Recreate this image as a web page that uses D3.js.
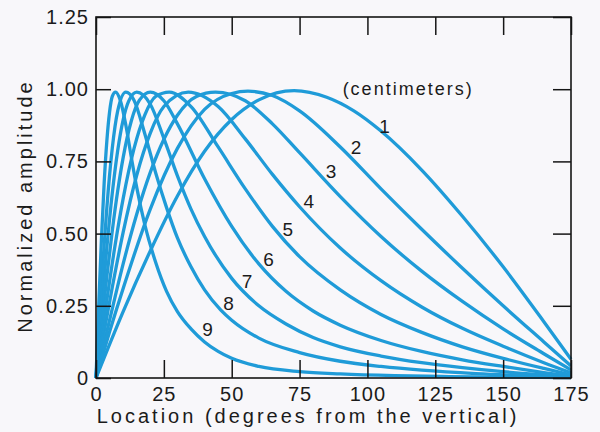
<!DOCTYPE html>
<html>
<head>
<meta charset="utf-8">
<script src="https://cdn.jsdelivr.net/npm/d3@7"></script>
<style>
  body { margin: 0; background: #f8f7fa; }
  svg { display: block; }
  text { font-family: "Liberation Sans", Arial, sans-serif; fill: #1b1b1b; }
</style>
</head>
<body>
<div id="chart"></div>
<script>
// Normalized amplitude vs location (degrees), one array per depth (cm): [angle, amplitude]
const curve1 = [[0,0],[10,0.23],[20,0.44],[30,0.63],[40,0.785],[50,0.895],[60,0.963],[73,0.995],[85,0.972],[95,0.925],[105,0.855],[120,0.72],[135,0.56],[150,0.385],[165,0.195],[175,0.065]];
const curve2 = [[0,0],[5,0.16],[10,0.31],[20,0.585],[30,0.795],[40,0.93],[50,0.985],[56,0.993],[65,0.978],[75,0.925],[90,0.8],[105,0.655],[120,0.515],[135,0.38],[150,0.25],[165,0.125],[175,0.042]];
const curve3 = [[0,0],[5,0.2],[10,0.395],[15,0.567],[20,0.712],[30,0.91],[37,0.975],[44,0.99],[55,0.96],[65,0.88],[75,0.78],[90,0.628],[105,0.49],[120,0.37],[135,0.265],[150,0.17],[165,0.084],[175,0.028]];
const curve4 = [[0,0],[3,0.16],[6,0.314],[10,0.504],[15,0.702],[20,0.848],[25,0.94],[34,0.99],[45,0.94],[55,0.828],[65,0.705],[75,0.593],[90,0.45],[105,0.337],[120,0.246],[135,0.172],[150,0.11],[165,0.053],[175,0.018]];
const curve5 = [[0,0],[2,0.137],[4,0.27],[7,0.458],[10,0.621],[14,0.794],[18,0.911],[22,0.975],[27,0.99],[35,0.94],[45,0.8],[55,0.655],[65,0.525],[75,0.42],[90,0.305],[105,0.22],[120,0.158],[135,0.108],[150,0.068],[165,0.033],[175,0.011]];
const curve6 = [[0,0],[2,0.18],[4,0.352],[6,0.51],[8,0.648],[10,0.763],[13,0.89],[16,0.962],[20,0.99],[25,0.96],[30,0.88],[40,0.69],[50,0.525],[60,0.395],[70,0.3],[80,0.232],[90,0.183],[105,0.13],[120,0.092],[135,0.063],[150,0.04],[165,0.019],[175,0.006]];
const curve7 = [[0,0],[1,0.118],[2,0.235],[4,0.452],[6,0.64],[8,0.788],[10,0.894],[12,0.958],[15,0.99],[20,0.948],[25,0.83],[30,0.7],[35,0.585],[40,0.49],[50,0.345],[60,0.25],[70,0.187],[80,0.14],[90,0.108],[105,0.076],[120,0.053],[135,0.036],[150,0.022],[165,0.011],[175,0.004]];
const curve8 = [[0,0],[1,0.16],[2,0.315],[3,0.46],[4,0.59],[6,0.796],[8,0.925],[11,0.99],[14,0.962],[18,0.845],[22,0.71],[26,0.59],[30,0.485],[35,0.385],[40,0.305],[46,0.235],[50,0.2],[60,0.138],[75,0.088],[90,0.058],[105,0.04],[120,0.027],[140,0.015],[160,0.007],[175,0.002]];
const curve9 = [[0,0],[0.5,0.127],[1,0.251],[2,0.48],[3,0.674],[4,0.821],[5,0.921],[6,0.975],[7.2,0.99],[9,0.96],[11,0.875],[13,0.765],[15,0.66],[18,0.53],[22,0.4],[26,0.3],[30,0.23],[35,0.17],[40,0.125],[45,0.092],[50,0.068],[60,0.04],[75,0.022],[90,0.014],[110,0.008],[130,0.005],[150,0.003],[175,0.001]];

const curves = [curve1, curve2, curve3, curve4, curve5, curve6, curve7, curve8, curve9];
const curveNames = ["1", "2", "3", "4", "5", "6", "7", "8", "9"];
// where each number sits, in data units (angle, amplitude at text baseline)
const labelPos = [[106.3,0.848],[95.8,0.775],[86.6,0.692],[78.4,0.589],[70.7,0.491],[63.6,0.388],[55.6,0.312],[48.8,0.235],[41.1,0.145]];

const xTicks = [0, 25, 50, 75, 100, 125, 150, 175];
const yTicks = [0, 0.25, 0.5, 0.75, 1.0, 1.25];
const yTickLabels = ["0", "0.25", "0.50", "0.75", "1.00", "1.25"];

const width = 600, height = 432;
const margin = { top: 17, right: 29, bottom: 54, left: 96 };
const innerW = width - margin.left - margin.right;
const innerH = height - margin.top - margin.bottom;

const svg = d3.select("#chart")
    .append("svg")
    .attr("width", width)
    .attr("height", height)
    .style("background", "#f8f7fa");

const g = svg.append("g")
    .attr("transform", `translate(${margin.left},${margin.top})`);

const x = d3.scaleLinear().domain([0, 175]).range([0, innerW]);
const y = d3.scaleLinear().domain([0, 1.25]).range([innerH, 0]);

// curves
const line = d3.line()
    .x(d => x(d[0]))
    .y(d => y(d[1]))
    .curve(d3.curveMonotoneX);

g.selectAll(".curve")
    .data(curves)
    .enter().append("path")
    .attr("class", "curve")
    .attr("fill", "none")
    .attr("stroke", "#1f9bd8")
    .attr("stroke-width", 3.3)
    .attr("stroke-linejoin", "round")
    .attr("d", line);

// axes, ticks pointing inward
function styleAxis(sel) {
    sel.select(".domain").remove();
    sel.selectAll(".tick line").attr("stroke", "#151515").attr("stroke-width", 1.5);
    sel.selectAll("text")
        .style("font-size", "20px")
        .style("letter-spacing", "1px")
        .attr("fill", "#1b1b1b");
}

g.append("g")
    .attr("transform", `translate(0,${innerH})`)
    .call(d3.axisBottom(x).tickValues(xTicks).tickSize(-18).tickPadding(9))
    .call(styleAxis);

g.append("g")
    .call(d3.axisTop(x).tickValues(xTicks).tickSize(-18).tickFormat(""))
    .call(styleAxis);

g.append("g")
    .call(d3.axisLeft(y).tickValues(yTicks).tickSize(-15).tickPadding(7)
        .tickFormat((d, i) => yTickLabels[i]))
    .call(styleAxis);

g.append("g")
    .attr("transform", `translate(${innerW},0)`)
    .call(d3.axisRight(y).tickValues(yTicks).tickSize(-18).tickFormat(""))
    .call(styleAxis);

// frame
g.append("rect")
    .attr("x", 0).attr("y", 0)
    .attr("width", innerW).attr("height", innerH)
    .attr("fill", "none")
    .attr("stroke", "#151515")
    .attr("stroke-width", 1.6);

// curve numbers
g.selectAll(".num")
    .data(labelPos)
    .enter().append("text")
    .attr("class", "num")
    .attr("x", d => x(d[0]))
    .attr("y", d => y(d[1]))
    .attr("text-anchor", "middle")
    .style("font-size", "19px")
    .text((d, i) => curveNames[i]);

g.append("text")
    .attr("x", x(115))
    .attr("y", y(0.98))
    .attr("text-anchor", "middle")
    .style("font-size", "18px")
    .style("letter-spacing", "2px")
    .text("(centimeters)");

// axis titles
svg.append("text")
    .attr("x", 308)
    .attr("y", 423)
    .attr("text-anchor", "middle")
    .style("font-size", "20px")
    .style("letter-spacing", "3px")
    .text("Location (degrees from the vertical)");

svg.append("text")
    .attr("transform", "translate(32,206) rotate(-90)")
    .attr("text-anchor", "middle")
    .style("font-size", "20px")
    .style("letter-spacing", "3px")
    .text("Normalized amplitude");
</script>
</body>
</html>
